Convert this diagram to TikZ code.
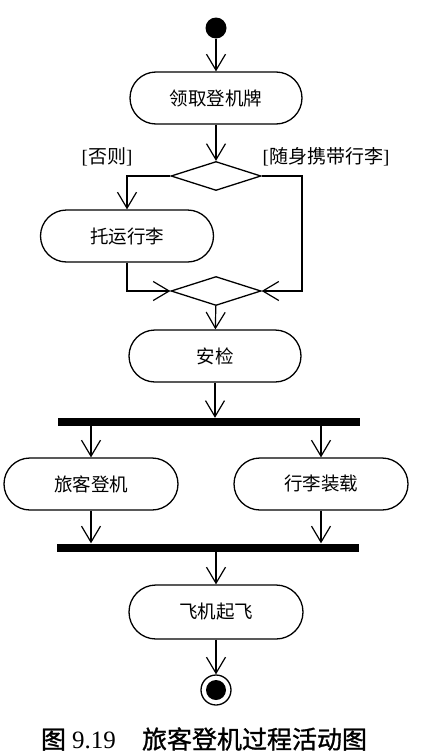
\documentclass[tikz,border=0pt]{standalone}
\usepackage{fontspec}
\setmainfont{Liberation Serif}
\newfontfamily\cjk{Noto Sans CJK SC}
\newfontfamily\cjkcap[FakeBold=1.2]{Noto Sans CJK SC}
\usetikzlibrary{arrows.meta,shapes.geometric}
\begin{document}
\begin{tikzpicture}[x=1pt,y=-1pt,
  act/.style={draw,line width=1.3pt,rounded corners=26pt,minimum height=52pt,inner sep=0pt,font=\cjk\fontsize{18.5}{18.5}\selectfont},
  dec/.style={draw,diamond,line width=1.3pt,minimum width=90pt,minimum height=29pt,inner sep=0pt},
  bar/.style={fill=black,minimum width=302pt,minimum height=8pt,inner sep=0pt},
  lbl/.style={inner sep=0pt,font=\fontsize{19}{19}\selectfont},
  arr/.style={-{Straight Barb[length=16pt,width=19pt,line width=1.2pt]},line width=1.2pt}
]
\useasboundingbox (0,0) rectangle (433,755);
\node[circle,fill,minimum size=21pt,inner sep=0pt] (start) at (216,28) {};
\node[act,minimum width=172pt] (a1) at (216,98) {领取登机牌};
\node[dec] (d1) at (216,176) {};
\node[act,minimum width=173pt] (a2) at (127,236) {托运行李};
\node[dec] (d2) at (216,291) {};
\node[act,minimum width=172pt] (a3) at (215,356) {安检};
\node[bar] (f1) at (209,422) {};
\node[act,minimum width=174pt] (a4) at (91,484) {旅客登机};
\node[act,minimum width=174pt] (a5) at (321,484) {行李装载};
\node[bar] (f2) at (208,547.5) {};
\node[act,minimum width=174pt,minimum height=54pt,rounded corners=27pt] (a6) at (216,612) {飞机起飞};
\node[circle,draw,line width=1.3pt,minimum size=30pt,inner sep=0pt] (end) at (216,690) {};
\node[circle,fill,minimum size=20pt,inner sep=0pt] (endin) at (end) {};
\coordinate (r) at (302,176);
\node[lbl] (l1) at (107,157) {[{\cjk 否则}]};
\node[lbl] (l2) at (326,157) {[{\cjk 随身携带行李}]};
\draw[arr] (start) -- (a1);
\draw[arr] (a1) -- (d1);
\draw[arr] (d1.west) -| (a2.north);
\draw[arr] (d1.east) -- (r) |- (d2.east);
\draw[arr] (a2.south) |- (d2.west);
\draw[arr] (d2) -- (a3);
\draw[arr] (a3) -- (a3 |- f1.north);
\draw[arr] (a4 |- f1.south) -- (a4);
\draw[arr] (a5 |- f1.south) -- (a5);
\draw[arr] (a4) -- (a4 |- f2.north);
\draw[arr] (a5) -- (a5 |- f2.north);
\draw[arr] (f2.south -| a6) -- (a6);
\draw[arr] (a6) -- (end);
\node[inner sep=0pt,font=\fontsize{25}{25}\selectfont] (cap) at (204,739) {{\cjkcap 图} 9.19\hspace{26pt}{\cjkcap 旅客登机过程活动图}};
\end{tikzpicture}
\end{document}
